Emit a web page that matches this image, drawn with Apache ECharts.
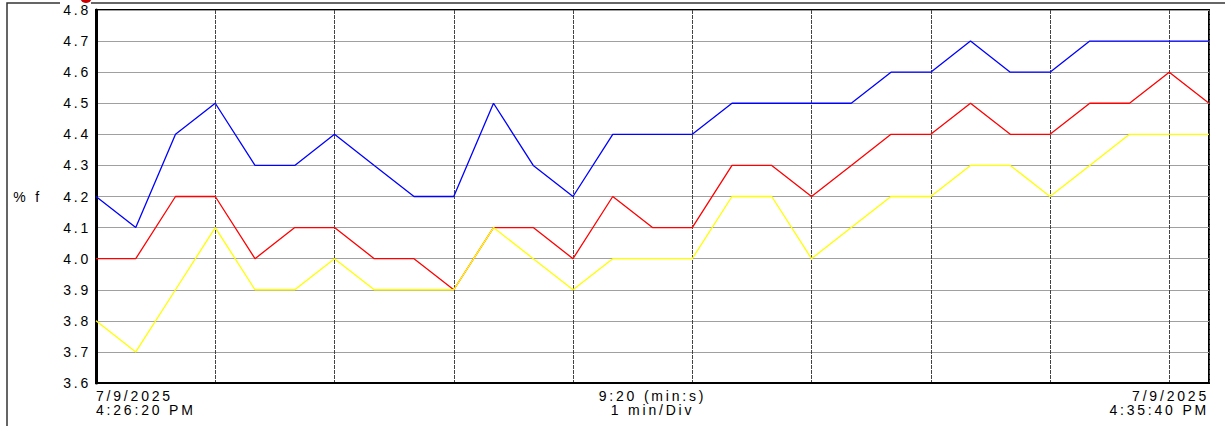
<!DOCTYPE html>
<html>
<head>
<meta charset="utf-8">
<script src="https://cdn.jsdelivr.net/npm/echarts@6/dist/echarts.min.js"></script>
<style>
html,body{margin:0;padding:0;background:#fff;}
#chart{width:1225px;height:426px;}
#chart text{letter-spacing:2.8px;}
</style>
</head>
<body>
<div id="chart"></div>
<script>
// time offsets in seconds from 4:26:20 PM (sample every 20 s)
var times = [0,20,40,60,80,100,120,140,160,180,200,220,240,260,280,300,320,340,360,380,400,420,440,460,480,500,520,540,560];
var blueValues   = [4.2,4.1,4.4,4.5,4.3,4.3,4.4,4.3,4.2,4.2,4.5,4.3,4.2,4.4,4.4,4.4,4.5,4.5,4.5,4.5,4.6,4.6,4.7,4.6,4.6,4.7,4.7,4.7,4.7];
var redValues    = [4.0,4.0,4.2,4.2,4.0,4.1,4.1,4.0,4.0,3.9,4.1,4.1,4.0,4.2,4.1,4.1,4.3,4.3,4.2,4.3,4.4,4.4,4.5,4.4,4.4,4.5,4.5,4.6,4.5];
var yellowValues = [3.8,3.7,3.9,4.1,3.9,3.9,4.0,3.9,3.9,3.9,4.1,4.0,3.9,4.0,4.0,4.0,4.2,4.2,4.0,4.1,4.2,4.2,4.3,4.3,4.2,4.3,4.4,4.4,4.4];
var xLabelValues = [0, 280, 560];
var xLabelTexts  = ['7/9/2025\n4:26:20 PM', '9:20 (min:s)\n1 min/Div', '7/9/2025\n4:35:40 PM'];
var yAxisName = '% f';

function pairs(vals){ return vals.map(function(v,i){ return [times[i], v]; }); }

var chart = echarts.init(document.getElementById('chart'), null, {renderer:'svg'});
var FONT = 'Liberation Sans, Arial, sans-serif';
chart.setOption({
  animation:false,
  backgroundColor:'#fff',
  grid:{left:96, right:16, top:10, bottom:43, show:true, borderColor:'#000', borderWidth:2, backgroundColor:'transparent'},
  xAxis:{
    type:'value', min:0, max:560, interval:60,
    axisLine:{show:true, onZero:false, lineStyle:{color:'#000', width:2}},
    axisTick:{show:false},
    splitLine:{show:true, lineStyle:{color:'#444', width:1, type:[4,1]}},
    axisLabel:{
      customValues:xLabelValues,
      alignMinLabel:'left', alignMaxLabel:'right',
      showMinLabel:true, showMaxLabel:true,
      margin:6, color:'#000', fontSize:14, fontFamily:FONT, lineHeight:14,
      formatter:function(v){ var i = xLabelValues.indexOf(v); return i>=0 ? xLabelTexts[i] : ''; }
    }
  },
  yAxis:{
    type:'value', min:3.6, max:4.8, interval:0.1,
    name:yAxisName, nameLocation:'middle', nameRotate:0, nameGap:54,
    nameTextStyle:{color:'#000', fontSize:14, fontFamily:FONT},
    axisLine:{show:true, lineStyle:{color:'#000', width:3}},
    axisTick:{show:false},
    splitLine:{show:true, lineStyle:{color:'#a0a0a0', width:1}},
    axisLabel:{margin:5, color:'#000', fontSize:14, fontFamily:FONT,
      formatter:function(v){ return v.toFixed(1); }}
  },
  graphic:[
    {type:'polyline', shape:{points:[[60,3],[7,3],[7,440]]}, style:{stroke:'#333', lineWidth:1.5, fill:null}, silent:true},
    {type:'line', shape:{x1:91,y1:3,x2:1240,y2:3}, style:{stroke:'#333', lineWidth:1.5}, silent:true},
    {type:'circle', shape:{cx:86, cy:-3, r:6}, style:{fill:'#cc0000'}, silent:true}
  ],
  series:[
    {type:'line', data:pairs(blueValues), showSymbol:false, lineStyle:{color:'#0000ff', width:1.3}, itemStyle:{color:'#0000ff'}},
    {type:'line', data:pairs(redValues), showSymbol:false, lineStyle:{color:'#ff0000', width:1.3}, itemStyle:{color:'#ff0000'}},
    {type:'line', data:pairs(yellowValues), showSymbol:false, lineStyle:{color:'#ffff00', width:1.3}, itemStyle:{color:'#ffff00'}}
  ]
});
</script>
</body>
</html>
